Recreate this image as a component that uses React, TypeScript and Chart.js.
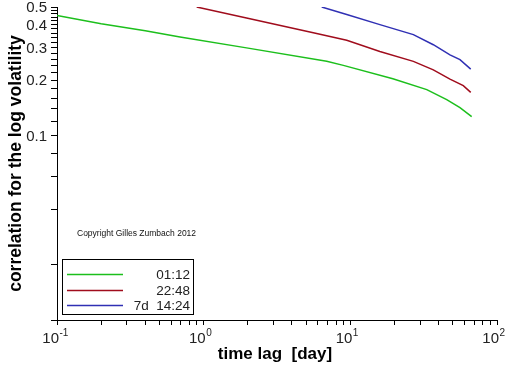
import React, { useEffect, useRef } from "react";
import { Chart, registerables } from "chart.js";

Chart.register(...registerables);

// ---- data ----
const seriesLabels = ["01:12", "22:48", "7d  14:24"];
const seriesColors = ["#1cbf1c", "#a00c1c", "#3030b4"];

const greenLag = [0.1, 0.2, 0.4, 0.69, 1.96, 6.9, 8.96, 19.5, 33.2, 45.4, 55.9, 67.2];
const greenCorr = [0.449, 0.406, 0.372, 0.344, 0.3, 0.2535, 0.241, 0.204, 0.178, 0.157, 0.142, 0.127];

const redLag = [0.896, 1.96, 3.0, 5.59, 9.45, 15.9, 26.9, 36.8, 47.8, 58.9, 66.2];
const redCorr = [0.5, 0.436, 0.404, 0.362, 0.33, 0.287, 0.2535, 0.228, 0.203, 0.187, 0.172];

const blueLag = [6.38, 9.45, 15.9, 26.9, 36.8, 47.8, 55.9, 66.2];
const blueCorr = [0.5, 0.455, 0.401, 0.354, 0.312, 0.275, 0.259, 0.23];

const xMin = 0.1;
const xMax = 100;
const yMin = 0.01;
const yMax = 0.5;

const xTickValues = [
  0.1, 0.2, 0.3, 0.4, 0.5, 0.6, 0.7, 0.8, 0.9,
  1, 2, 3, 4, 5, 6, 7, 8, 9,
  10, 20, 30, 40, 50, 60, 70, 80, 90, 100,
];
const xLabelExponents = [-1, 0, 1, 2];

const yTickValues = [
  0.01, 0.02, 0.04, 0.06, 0.08, 0.1, 0.12, 0.14, 0.16, 0.18, 0.2, 0.22, 0.24,
  0.26, 0.28, 0.3, 0.32, 0.34, 0.36, 0.38, 0.4, 0.42, 0.44, 0.46, 0.48, 0.5,
];
const yLabelValues = [0.1, 0.2, 0.3, 0.4, 0.5];

const xTitle = "time lag  [day]";
const yTitle = "correlation for the log volatility";
const copyright = "Copyright Gilles Zumbach 2012";

const toPoints = (xs: number[], ys: number[]) => xs.map((x, i) => ({ x, y: ys[i] }));

const decorPlugin = {
  id: "decor",
  afterDraw(chart: any) {
    const ctx = chart.ctx as CanvasRenderingContext2D;
    const xs = chart.scales.x;
    const ys = chart.scales.y;
    const area = chart.chartArea;
    ctx.save();

    // y tick labels
    ctx.fillStyle = "#222";
    ctx.font = '15px "Liberation Sans"';
    ctx.textAlign = "right";
    ctx.textBaseline = "middle";
    yLabelValues.forEach((v) => {
      ctx.fillText(v.toFixed(1), area.left - 10, ys.getPixelForValue(v) + 1);
    });

    // x tick labels 10^n
    xLabelExponents.forEach((e) => {
      const px = xs.getPixelForValue(Math.pow(10, e));
      ctx.font = '15px "Liberation Sans"';
      ctx.textAlign = "right";
      ctx.textBaseline = "alphabetic";
      ctx.fillText("10", px + 2, 343);
      ctx.font = '10px "Liberation Sans"';
      ctx.textAlign = "left";
      ctx.fillText(String(e), px + 2.5, 336);
    });

    // axis titles
    ctx.fillStyle = "#000";
    ctx.font = 'bold 17px "Liberation Sans"';
    ctx.textAlign = "center";
    ctx.textBaseline = "alphabetic";
    ctx.fillText(xTitle, (area.left + area.right) / 2 - 2, 359);

    ctx.save();
    ctx.translate(21, (area.top + area.bottom) / 2);
    ctx.rotate(-Math.PI / 2);
    ctx.font = 'bold 17.5px "Liberation Sans"';
    ctx.fillText(yTitle, 0, 0);
    ctx.restore();

    // copyright
    ctx.font = '8.5px "Liberation Sans"';
    ctx.textAlign = "left";
    ctx.fillStyle = "#111";
    ctx.fillText(copyright, 77, 236);

    // legend
    const bx = 62.5, by = 259.5, bw = 131, bh = 55;
    ctx.fillStyle = "#fff";
    ctx.fillRect(bx, by, bw, bh);
    ctx.strokeStyle = "#000";
    ctx.lineWidth = 1;
    ctx.strokeRect(bx, by, bw, bh);
    const rows = [274.5, 290.5, 305.5];
    chart.data.datasets.forEach((ds: any, i: number) => {
      ctx.strokeStyle = ds.borderColor;
      ctx.lineWidth = 1.5;
      ctx.beginPath();
      ctx.moveTo(67, rows[i]);
      ctx.lineTo(123, rows[i]);
      ctx.stroke();
      ctx.fillStyle = "#222";
      ctx.font = '13.5px "Liberation Sans"';
      ctx.textAlign = "right";
      ctx.textBaseline = "middle";
      ctx.fillText(ds.label, 190, rows[i] + 0.5);
    });

    ctx.restore();
  },
};

export default function App() {
  const canvasRef = useRef<HTMLCanvasElement | null>(null);

  useEffect(() => {
    if (!canvasRef.current) return;
    const chart = new Chart(canvasRef.current, {
      type: "line",
      data: {
        datasets: [
          { label: seriesLabels[0], data: toPoints(greenLag, greenCorr), borderColor: seriesColors[0] },
          { label: seriesLabels[1], data: toPoints(redLag, redCorr), borderColor: seriesColors[1] },
          { label: seriesLabels[2], data: toPoints(blueLag, blueCorr), borderColor: seriesColors[2] },
        ],
      },
      options: {
        animation: false,
        responsive: false,
        parsing: false as any,
        layout: { padding: { left: 0, right: 15, top: 7, bottom: 0 } },
        elements: {
          point: { radius: 0 },
          line: { borderWidth: 1.5, tension: 0, fill: false },
        },
        plugins: {
          legend: { display: false },
          tooltip: { enabled: false },
        },
        scales: {
          x: {
            type: "logarithmic",
            min: xMin,
            max: xMax,
            afterBuildTicks: (s: any) => {
              s.ticks = xTickValues.map((v) => ({ value: v }));
            },
            afterFit: (s: any) => {
              s.height = 46;
            },
            grid: { drawOnChartArea: false, drawTicks: true, tickLength: 5, tickColor: "#000", tickWidth: 1 },
            border: { display: true, color: "#000", width: 1 },
            ticks: { display: false },
          },
          y: {
            type: "logarithmic",
            min: yMin,
            max: yMax,
            afterBuildTicks: (s: any) => {
              s.ticks = yTickValues.map((v) => ({ value: v }));
            },
            afterFit: (s: any) => {
              s.width = 57;
            },
            grid: { drawOnChartArea: false, drawTicks: true, tickLength: 6, tickColor: "#000", tickWidth: 1 },
            border: { display: true, color: "#000", width: 1 },
            ticks: { display: false },
          },
        },
      } as any,
      plugins: [decorPlugin],
    });
    return () => chart.destroy();
  }, []);

  return (
    <div style={{ position: "fixed", left: 0, top: 0, width: 512, height: 366, background: "#fff" }}>
      <canvas ref={canvasRef} width={512} height={366} style={{ width: 512, height: 366, display: "block" }} />
    </div>
  );
}
